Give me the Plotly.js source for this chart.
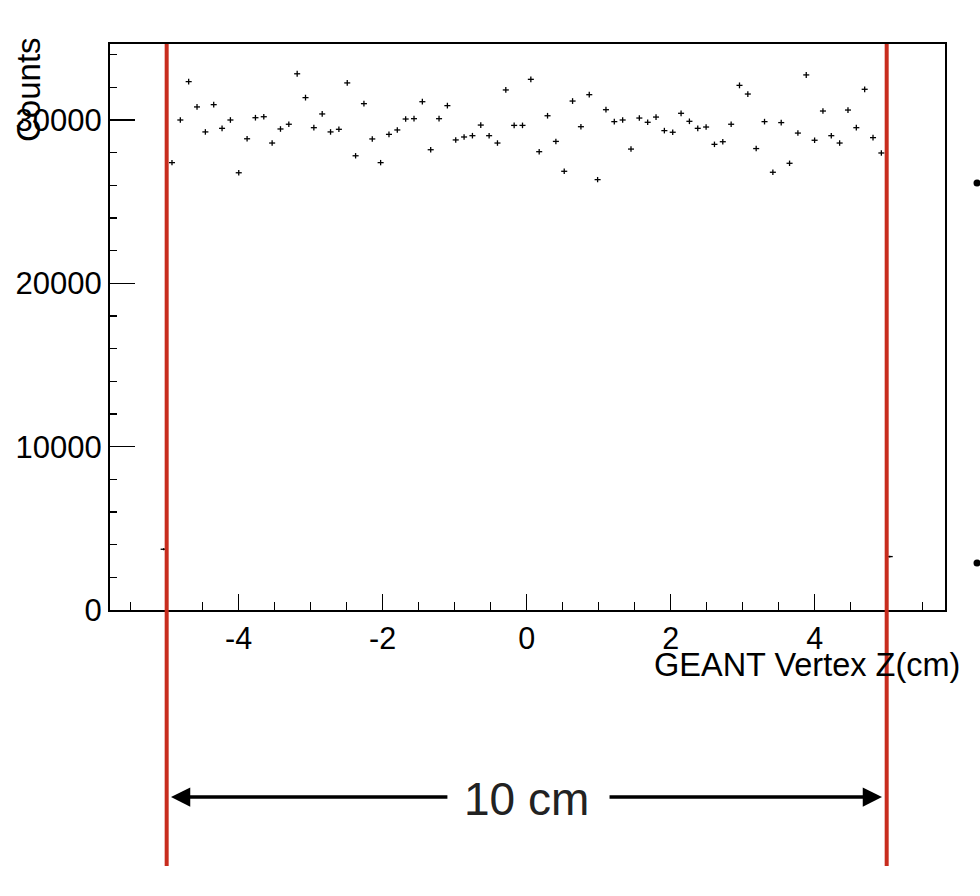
<!DOCTYPE html>
<html>
<head>
<meta charset="utf-8">
<script src="https://cdn.plot.ly/plotly-3.0.1.min.js"></script>
<style>
  html, body { margin: 0; padding: 0; background: #ffffff; }
  #chart { width: 980px; height: 896px; }
</style>
</head>
<body>
<div id="chart"></div>
<script>
// Histogram definition: GEANT vertex Z (cm)
const histMin = -5.1;
const histMax = 5.1;
const nBins = 88;

// Bin contents (counts)
const counts = [
  3720,
  27390, 30000, 32350, 30800, 29270, 30940, 29490, 30000, 26770, 28850,
  30140, 30200, 28590, 29450, 29740, 32830, 31370, 29530,
  30370, 29270, 29430, 32270, 27810, 31000, 28840, 27390, 29120, 29390,
  30060, 30080, 31120, 28180, 30080, 30880, 28780, 28960, 29040, 29690,
  29040, 28590, 31840, 29670,
  29670, 32490, 28060, 30260, 28690, 26860, 31160, 29590, 31550, 26350,
  30630, 29900, 30000, 28220, 30120, 29860, 30180, 29350, 29250, 30410,
  29920, 29490, 29570, 28510,
  28670, 29740, 32120, 31590, 28250, 29900, 26800, 29840, 27350, 29200,
  32760, 28760, 30550, 29040, 28590, 30610, 29530, 31880, 28920, 27980,
  3270
];

// Vertex cut lines (cm)
const cutLines = [-5, 5];

// Axis ticks
const xTickVals = [-4, -2, 0, 2, 4];
const yTickVals = [0, 10000, 20000, 30000];

const binWidth = (histMax - histMin) / nBins;
const binCenters = counts.map((_, i) => histMin + (i + 0.5) * binWidth);

const font = "'Liberation Sans', Arial, Helvetica, sans-serif";

const trace = {
  type: 'scatter',
  mode: 'markers',
  x: binCenters,
  y: counts,
  marker: { size: 1, color: 'rgba(0,0,0,0)' },
  error_y: { type: 'sqrt', visible: true, color: '#000', thickness: 1.3, width: 0 },
  error_x: { type: 'constant', value: 0.042, visible: true, color: '#000', thickness: 1.3, width: 0 },
  hoverinfo: 'x+y',
  showlegend: false,
  cliponaxis: false
};

// plot-area pixel geometry helpers for annotations
const L = 110, R = 35, T = 44, B = 286;
const W = 980, H = 896;
const plotW = W - L - R, plotH = H - T - B;
const px2paperX = px => (px - L) / plotW;
const px2paperY = py => (H - B - py) / plotH;

const shapes = cutLines.map(v => ({
  type: 'line', xref: 'x', yref: 'paper',
  x0: v, x1: v, y0: px2paperY(866), y1: 1,
  line: { color: 'rgb(200,45,30)', width: 4 },
  layer: 'above'
}));

// slide bullets at right edge
[183, 563].forEach(py => {
  shapes.push({
    type: 'circle', xref: 'paper', yref: 'paper',
    xsizemode: 'pixel', ysizemode: 'pixel',
    xanchor: px2paperX(977), yanchor: px2paperY(py),
    x0: -3.5, x1: 3.5, y0: -3.5, y1: 3.5,
    fillcolor: '#000', line: { width: 0 }
  });
});

const arrowY = px2paperY(797);
const annotations = [
  {
    text: 'Counts', xref: 'paper', yref: 'paper',
    x: px2paperX(28), y: px2paperY(90), textangle: -90,
    showarrow: false, xanchor: 'center', yanchor: 'middle',
    font: { family: font, size: 33, color: '#000' }
  },
  {
    text: 'GEANT Vertex Z(cm)', xref: 'paper', yref: 'paper',
    x: px2paperX(962), y: px2paperY(665),
    showarrow: false, xanchor: 'right', yanchor: 'middle',
    font: { family: font, size: 32.5, color: '#000' }
  },
  {
    text: '10 cm', xref: 'x', yref: 'paper',
    x: 0, y: px2paperY(799), showarrow: false,
    xanchor: 'center', yanchor: 'middle',
    font: { family: font, size: 46, color: '#222' }
  },
  {
    text: '', xref: 'x', yref: 'paper', axref: 'x', ayref: 'paper',
    x: -4.94, y: arrowY, ax: -1.08, ay: arrowY,
    showarrow: true, arrowhead: 2, arrowsize: 1.1, arrowwidth: 3.5, arrowcolor: '#000',
    standoff: 0, startstandoff: 0
  },
  {
    text: '', xref: 'x', yref: 'paper', axref: 'x', ayref: 'paper',
    x: 4.935, y: arrowY, ax: 1.13, ay: arrowY,
    showarrow: true, arrowhead: 2, arrowsize: 1.1, arrowwidth: 3.5, arrowcolor: '#000',
    standoff: 0, startstandoff: 0
  }
];

const layout = {
  width: W, height: H,
  margin: { l: L, r: R, t: T, b: B, pad: 0 },
  paper_bgcolor: '#fff', plot_bgcolor: '#fff',
  font: { family: font, color: '#000' },
  showlegend: false,
  xaxis: {
    range: [-5.787, 5.81],
    tickmode: 'array', tickvals: xTickVals, ticktext: xTickVals.map(String),
    ticks: 'inside', ticklen: 16, tickwidth: 1.5, tickcolor: '#000',
    minor: { dtick: 0.5, ticks: 'inside', ticklen: 8, tickwidth: 1.5, tickcolor: '#000', showgrid: false },
    showline: true, linecolor: '#000', linewidth: 2, mirror: true,
    showgrid: false, zeroline: false,
    tickfont: { family: font, size: 30.5, color: '#000' },
    ticklabelstandoff: 0
  },
  yaxis: {
    range: [0, 34653],
    tickmode: 'array', tickvals: yTickVals, ticktext: yTickVals.map(String),
    ticks: 'inside', ticklen: 25, tickwidth: 1.5, tickcolor: '#000',
    minor: { dtick: 2000, ticks: 'inside', ticklen: 7, tickwidth: 1.5, tickcolor: '#000', showgrid: false },
    showline: true, linecolor: '#000', linewidth: 2, mirror: true,
    showgrid: false, zeroline: false,
    tickfont: { family: font, size: 31, color: '#000' },
    ticklabelstandoff: 0
  },
  shapes: shapes,
  annotations: annotations
};

Plotly.newPlot('chart', [trace], layout, { displayModeBar: false, staticPlot: true });
</script>
</body>
</html>
